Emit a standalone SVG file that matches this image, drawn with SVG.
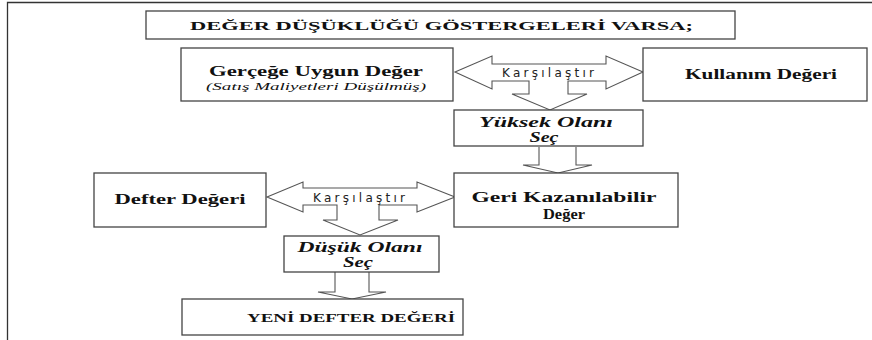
<svg xmlns="http://www.w3.org/2000/svg" width="872" height="340" viewBox="0 0 872 340">
<style>
.box{fill:#fff;stroke:#444;stroke-width:1.3}
.arr{fill:#fff;stroke:#555;stroke-width:1.1;stroke-linejoin:miter}
.t{font-family:"Liberation Serif","Times New Roman",serif;font-weight:bold;font-size:14px;fill:#111;text-anchor:middle}
.ti{font-family:"Liberation Serif","Times New Roman",serif;font-weight:bold;font-style:italic;font-size:14px;fill:#111;text-anchor:middle}
.sub{font-family:"Liberation Serif","Times New Roman",serif;font-style:italic;font-size:11px;fill:#111;text-anchor:middle}
.k{font-family:"DejaVu Sans","Liberation Sans",sans-serif;font-size:12px;fill:#222;text-anchor:middle}
.cap{font-family:"Liberation Serif","Times New Roman",serif;font-weight:bold;font-size:12px;fill:#111}
</style>
<rect width="872" height="340" fill="#fff"/>
<path d="M7.5,340 V2.5 H872" fill="none" stroke="#333" stroke-width="1.3"/>
<g id="connectors">
<path class="arr" d="M455,72 L492,56 L492,64 L606,64 L606,56 L643,72 L606,89 L606,81 L568,81 L568,94 L587,94 L550,110 L512,94 L529,94 L529,81 L492,81 L492,89 Z"/>
<text class="k" x="548" y="77" textLength="92" lengthAdjust="spacing">Karşılaştır</text>
<path class="arr" d="M539,147 L539,165 L523,165 L558,173 L592,165 L576,165 L576,147"/>
<path class="arr" d="M267,197 L303,182 L303,188 L417,188 L417,182 L455,197 L417,212 L417,205 L379,205 L379,220 L398,220 L360,235 L323,220 L337,220 L337,205 L303,205 L303,212 Z"/>
<text class="k" x="359" y="202" textLength="92" lengthAdjust="spacing">Karşılaştır</text>
<path class="arr" d="M335,272 L335,292 L318,292 L352,299 L386,292 L369,292 L369,272"/>
</g>
<g id="title">
<rect class="box" x="146" y="11" width="589" height="28"/>
<text class="cap" x="190" y="30" font-size="14" textLength="503" lengthAdjust="spacingAndGlyphs">DEĞER DÜŞÜKLÜĞÜ GÖSTERGELERİ VARSA;</text>
</g>
<g id="gerceğe">
<rect class="box" x="181" y="48" width="272" height="53"/>
<text class="t" x="316" y="76" textLength="214" lengthAdjust="spacingAndGlyphs">Gerçeğe Uygun Değer</text>
<text class="sub" x="316" y="90" textLength="220" lengthAdjust="spacingAndGlyphs">(Satış Maliyetleri Düşülmüş)</text>
</g>
<g id="kullanim">
<rect class="box" x="643" y="48" width="224" height="53"/>
<text class="t" x="761" y="79" textLength="152" lengthAdjust="spacingAndGlyphs">Kullanım Değeri</text>
</g>
<g id="yuksek">
<rect class="box" x="454" y="110" width="189" height="36"/>
<text class="ti" x="546" y="127" textLength="134" lengthAdjust="spacingAndGlyphs">Yüksek Olanı</text>
<text class="ti" x="544" y="142" font-size="15" textLength="29" lengthAdjust="spacingAndGlyphs">Seç</text>
</g>
<g id="geri">
<rect class="box" x="454" y="173" width="224" height="54"/>
<text class="t" x="564" y="202" textLength="185" lengthAdjust="spacingAndGlyphs">Geri Kazanılabilir</text>
<text class="t" x="564" y="219" font-size="15" textLength="42" lengthAdjust="spacingAndGlyphs">Değer</text>
</g>
<g id="defter">
<rect class="box" x="94" y="173" width="172" height="54"/>
<text class="t" x="180" y="204" textLength="131" lengthAdjust="spacingAndGlyphs">Defter Değeri</text>
</g>
<g id="dusuk">
<rect class="box" x="284" y="236" width="155" height="36"/>
<text class="ti" x="360" y="252" textLength="125" lengthAdjust="spacingAndGlyphs">Düşük Olanı</text>
<text class="ti" x="358" y="267" font-size="15" textLength="30" lengthAdjust="spacingAndGlyphs">Seç</text>
</g>
<g id="yeni">
<rect class="box" x="182" y="299" width="281" height="36"/>
<text class="cap" x="247" y="322" font-size="12" textLength="208" lengthAdjust="spacingAndGlyphs">YENİ DEFTER DEĞERİ</text>
</g>
</svg>
